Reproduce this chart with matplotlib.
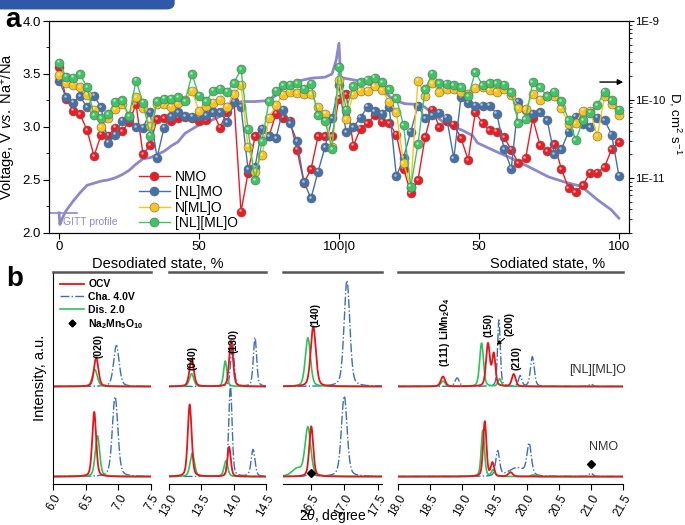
import numpy as np
import matplotlib
matplotlib.use("Agg")
import matplotlib.pyplot as plt
from matplotlib.patches import FancyBboxPatch
from matplotlib.transforms import ScaledTranslation

plt.rcParams['font.family'] = ['Liberation Sans', 'DejaVu Sans']
plt.rcParams['mathtext.fontset'] = 'custom'
plt.rcParams['mathtext.rm'] = 'Liberation Sans'
plt.rcParams['mathtext.it'] = 'Liberation Sans:italic'
plt.rcParams['mathtext.bf'] = 'Liberation Sans:bold'

# ---------------- panel a data ----------------
# state axis: 0-100 desodiated, then 100-200 sodiated (0-100)
desod_x = np.linspace(0, 100, 41)
sod_x = np.linspace(100, 200, 40)[1:]

# log10 of diffusion coefficient (cm2 s-1)
nmo_desod = [-9.58, -9.99, -10.14, -10.19, -10.39, -10.72, -10.45, -10.46, -10.36, -10.40,
             -10.29, -10.06, -10.70, -10.58, -10.25, -10.24, -10.27, -10.23, -10.22, -10.23,
             -10.27, -10.26, -10.16, -10.36, -10.16, -10.02, -11.43, -10.94, -10.47, -10.37,
             -10.47, -10.18, -10.23, -10.27, -10.64, -11.06, -10.89, -10.47, -10.47, -10.47, -9.99]
nmo_sod = [-9.93, -10.59, -10.37, -10.30, -10.20, -10.28, -10.30, -10.45, -10.88, -11.19,
           -11.03, -10.48, -10.13, -10.35, -10.27, -10.32, -10.49, -10.77, -10.16, -10.30,
           -10.39, -10.41, -10.48, -10.64, -10.81, -10.75, -10.24, -10.58, -10.66, -10.57,
           -10.89, -11.13, -11.18, -11.09, -10.93, -10.93, -10.86, -10.63, -10.54]

nlmo_desod = [-9.76, -9.97, -10.04, -9.96, -10.10, -9.95, -10.10, -10.55, -10.45, -10.27,
              -10.24, -10.35, -10.36, -10.16, -10.74, -10.36, -10.21, -10.16, -10.21, -10.22,
              -10.21, -10.20, -10.16, -10.16, -10.29, -10.03, -10.09, -10.89, -10.86, -10.37,
              -10.47, -10.49, -10.13, -10.30, -10.53, -11.05, -11.26, -10.92, -10.61, -10.24, -9.82]
nlmo_sod = [-10.42, -10.35, -10.23, -10.09, -10.15, -10.18, -10.10, -10.98, -10.74, -10.41,
            -10.08, -10.24, -10.20, -10.17, -10.23, -10.75, -9.97, -10.04, -10.08, -10.08,
            -10.08, -10.18, -10.63, -10.88, -10.03, -10.13, -10.18, -10.16, -10.26, -10.70,
            -10.63, -10.41, -10.22, -10.31, -10.35, -10.23, -10.26, -10.45, -10.97]

nmlo_desod = [-9.69, -9.79, -9.81, -9.84, -9.94, -10.13, -10.35, -10.24, -10.12, -10.06,
              -10.21, -9.97, -10.11, -10.34, -10.06, -10.06, -10.09, -10.05, -10.01, -9.89,
              -10.15, -10.08, -10.04, -10.00, -10.09, -9.93, -9.81, -10.60, -10.92, -10.71,
              -10.23, -10.07, -9.94, -9.90, -9.92, -9.93, -9.93, -10.10, -10.18, -10.60, -9.75]
nmlo_sod = [-10.25, -9.93, -9.89, -9.89, -9.83, -9.88, -10.03, -10.16, -10.81, -11.11,
            -9.76, -9.96, -9.79, -9.91, -9.87, -9.87, -9.91, -9.93, -9.85, -9.84,
            -9.88, -9.90, -9.86, -9.94, -10.11, -10.12, -9.93, -10.00, -9.96, -9.96,
            -10.11, -10.31, -10.30, -10.14, -10.14, -10.47, -9.96, -10.06, -10.20]

nlml_desod = [-9.53, -9.71, -9.72, -9.68, -9.84, -10.20, -10.24, -10.19, -10.03, -10.01,
              -10.21, -9.76, -10.04, -10.46, -10.02, -9.99, -9.99, -9.97, -10.02, -9.68,
              -9.95, -10.02, -9.89, -9.86, -9.90, -9.79, -9.61, -10.38, -11.03, -10.53,
              -10.02, -9.89, -9.82, -9.81, -9.79, -9.86, -9.80, -10.20, -10.27, -10.63, -9.58]
nlml_sod = [-10.13, -9.83, -9.78, -9.75, -9.72, -9.78, -9.87, -9.98, -10.33, -11.11,
            -10.57, -9.87, -9.67, -9.79, -9.80, -9.82, -9.84, -9.96, -9.65, -9.82,
            -9.79, -9.79, -9.81, -9.91, -10.30, -10.25, -9.78, -9.84, -9.96, -9.90,
            -10.02, -10.26, -10.52, -10.26, -10.17, -10.07, -9.90, -10.01, -10.13]

# GITT voltage profile
gitt_x = [0, 0.3, 1, 2.5, 5, 7.5, 10, 12.5, 15, 17.5, 20, 22.5, 25, 27.5, 30, 32.5, 35,
          37.5, 40, 42.5, 45, 47.5, 50, 52.5, 55, 57.5, 60, 62.5, 65, 67.5, 70, 75, 77.5,
          80, 82.5, 85, 90, 95, 97.5, 99, 100, 100.6, 102, 108, 114, 120, 123.5, 129.5,
          132, 138, 144, 147.7, 149.5, 156, 162, 168.9, 174.8, 180.7, 186.6, 192.5, 197.2, 200]
gitt_v = [2.19, 2.08, 2.13, 2.21, 2.30, 2.38, 2.45, 2.47, 2.49, 2.50, 2.52, 2.55, 2.59,
          2.65, 2.70, 2.71, 2.74, 2.77, 2.82, 2.86, 2.94, 2.98, 3.02, 3.04, 3.07, 3.10,
          3.14, 3.19, 3.24, 3.24, 3.24, 3.25, 3.30, 3.36, 3.39, 3.43, 3.46, 3.47, 3.50,
          3.63, 3.79, 3.47, 3.46, 3.43, 3.37, 3.25, 3.22, 3.21, 3.16, 3.03, 2.97, 2.92,
          2.85, 2.77, 2.70, 2.61, 2.53, 2.48, 2.44, 2.31, 2.22, 2.14]

series_names = ['NMO', '[NL]MO', 'N[ML]O', '[NL][ML]O']
series_colors = ['#ec1c24', '#4472a8', '#f7c51e', '#3fc463']

# ---------------- panel b data (peak: centre, height, fwhm) ----------------
top_ocv = [(6.66, .137, .08), (13.35, .13, .08), (13.96, .215, .07), (16.54, .283, .09),
           (18.70, .047, .08), (19.40, .20, .07), (19.49, .15, .06), (19.80, .058, .07)]
top_cha = [(6.97, .193, .10), (13.98, .21, .06), (14.33, .23, .06), (17.04, .50, .10),
           (18.92, .04, .08), (19.57, .315, .05), (19.90, .05, .06), (20.09, .14, .07),
           (21.0, .012, .06)]
top_dis = [(6.64, .08, .09), (13.35, .06, .08), (13.87, .12, .06), (16.46, .23, .09),
           (18.70, .025, .08), (19.30, .205, .07), (19.58, .035, .06)]
bot_ocv = [(6.63, .305, .07), (13.32, .34, .07), (13.93, .14, .06), (16.51, .237, .07),
           (19.35, .26, .06), (19.47, .063, .06), (19.75, .02, .08)]
bot_cha = [(6.95, .377, .10), (13.95, .43, .06), (14.30, .127, .07), (16.5, .015, .1),
           (17.0, .38, .10), (19.55, .118, .07), (19.85, .04, .3), (20.04, .145, .08),
           (21.0, .016, .07)]
bot_dis = [(6.68, .193, .08), (13.36, .11, .08), (13.88, .074, .07), (16.30, .035, .18),
           (16.46, .23, .10), (19.32, .22, .06), (19.48, .03, .06), (20.1, .008, .08)]
phase_marks = [16.5, 21.0]
windows = [(6.0, 7.5), (13.0, 14.5), (16.09, 17.56), (18.0, 21.5)]
window_ticks = [[6.0, 6.5, 7.0, 7.5], [13.0, 13.5, 14.0, 14.5], [16.5, 17.0, 17.5],
                [18.0, 18.5, 19.0, 19.5, 20.0, 20.5, 21.0, 21.5]]


def profile(x, peaks):
    y = np.zeros_like(x)
    for c, h, w in peaks:
        g = np.exp(-4 * np.log(2) * ((x - c) / w) ** 2)
        lor = 1.0 / (1 + 4 * ((x - c) / w) ** 2)
        y += h * (0.65 * g + 0.35 * lor)
    return y


fig = plt.figure(figsize=(6.85, 5.25), dpi=100)

# banner
fig.patches.append(FancyBboxPatch((-0.02, 0.982), 0.275, 0.05, boxstyle="round,pad=0,rounding_size=0.012",
                                  transform=fig.transFigure, facecolor='#2f58a8', edgecolor='none'))

# ---------------- panel a ----------------
ax = fig.add_axes([0.0715, 0.5562, 0.8467, 0.4038])
ax.plot(gitt_x, gitt_v, color='#8c88c9', lw=2.0, zorder=1)
ax.plot([-3.2, 6.4], [2.19, 2.19], color='#8c88c9', lw=1.2)
ax.text(1.4, 2.10, 'GITT profile', color='#8c88c9', fontsize=7.5, va='center')
ax.set_xlim(-3.6, 203.6)
ax.set_ylim(2.0, 4.0)
ax.set_yticks([2.0, 2.5, 3.0, 3.5, 4.0])
ax.set_yticklabels(['2.0', '2.5', '3.0', '3.5', '4.0'])
ax.set_yticks(np.arange(2.0, 4.01, 0.25), minor=True)
ax.set_xticks([0, 50, 100, 150, 200])
ax.set_xticklabels(['0', '50', '100|0', '50', '100'])
ax.tick_params(labelsize=9.5, length=4, pad=2)
ax.tick_params(which='minor', length=2)
ax.set_ylabel(r'Voltage, V $\it{vs.}$ Na$^{+}$/Na', fontsize=10.5)
ax.yaxis.set_label_coords(-0.053, 0.5)

ax2 = ax.twinx()
state = np.concatenate([desod_x, sod_x])
all_logd = [nmo_desod + nmo_sod, nlmo_desod + nlmo_sod, nmlo_desod + nmlo_sod, nlml_desod + nlml_sod]
shine = ax2.transData + ScaledTranslation(-1.0 / 72, 1.0 / 72, fig.dpi_scale_trans)
for logd, name, col in zip(all_logd, series_names, series_colors):
    d = 10.0 ** np.array(logd)
    ax2.plot(state, d, '-o', color=col, lw=1.0, ms=6.5, mec='#666666', mew=0.4, label=name)
    ax2.plot(state, d, 'o', color='white', ms=1.8, alpha=0.6, mew=0, transform=shine)
ax2.set_yscale('log')
ax2.set_ylim(10 ** -11.70, 1e-9)
ax2.set_yticks([1e-11, 1e-10, 1e-9])
ax2.set_yticklabels(['1E-11', '1E-10', '1E-9'])
ax2.tick_params(labelsize=8.2, length=3.5, pad=1)
ax2.tick_params(which='minor', length=2)
leg = ax2.legend(loc='lower left', bbox_to_anchor=(0.14, -0.025), frameon=False, fontsize=10,
                 handlelength=2.3, handletextpad=0.3, labelspacing=0.1, borderaxespad=0.2)
ax2.annotate('', xy=(0.995, 0.712), xytext=(0.945, 0.712), xycoords='axes fraction',
             arrowprops=dict(arrowstyle='-|>', color='black', lw=1, mutation_scale=8))
fig.text(0.986, 0.765, r'D, cm$^2$ s$^{-1}$', rotation=270, fontsize=9.5, ha='center', va='center')
fig.text(0.231, 0.497, 'Desodiated state, %', fontsize=10.5, ha='center', va='center')
fig.text(0.799, 0.497, 'Sodiated state, %', fontsize=10.5, ha='center', va='center')
fig.text(0.019, 0.962, 'a', fontsize=20, fontweight='bold', ha='center', va='center')
fig.text(0.021, 0.468, 'b', fontsize=20, fontweight='bold', ha='center', va='center')

# ---------------- panel b ----------------
positions = [(0.0774, 0.0781, 0.1431, 0.4038), (0.2467, 0.0781, 0.1416, 0.4038),
             (0.4131, 0.0781, 0.1445, 0.4038), (0.5810, 0.0781, 0.3285, 0.4038)]
off_top, off_bot = 0.46, 0.035
red, blue, green = '#e8141c', '#3e6fb0', '#2dc35a'
baxes = []
for k, (pos, (lo, hi), ticks) in enumerate(zip(positions, windows, window_ticks)):
    bx = fig.add_axes(pos)
    x = np.linspace(lo, hi, 800)
    for off, ocv, cha, dis in [(off_top, top_ocv, top_cha, top_dis), (off_bot, bot_ocv, bot_cha, bot_dis)]:
        bx.plot(x, off + profile(x, cha), color=blue, lw=1.0, ls='-.')
        bx.plot(x, off + profile(x, dis), color=green, lw=1.2)
        bx.plot(x, off + profile(x, ocv), color=red, lw=1.3)
    bx.set_xlim(lo, hi)
    bx.set_ylim(0, 1)
    bx.set_yticks([])
    bx.set_xticks(ticks)
    bx.set_xticklabels(['%.1f' % t for t in ticks], rotation=60, ha='right', va='top',
                       rotation_mode='anchor', fontsize=8.5)
    bx.tick_params(axis='x', length=4, pad=2)
    bx.spines['right'].set_visible(False)
    bx.spines['left'].set_visible(k == 0)
    bx.spines['top'].set_color('#555555')
    bx.spines['top'].set_linewidth(1.8)
    baxes.append(bx)

baxes[2].plot([phase_marks[0]], [0.05], 'D', color='black', ms=4)
baxes[3].plot([phase_marks[1]], [0.093], 'D', color='black', ms=4)

lab = dict(fontsize=7.5, fontweight='bold', rotation=90, ha='center', va='bottom')
baxes[0].text(6.70, 0.594, '(020)', **lab)
baxes[1].text(13.37, 0.538, '(040)', **lab)
baxes[1].text(13.99, 0.62, '(130)', **lab)
baxes[2].text(16.57, 0.74, '(140)', **lab)
baxes[3].text(18.73, 0.552, r'(111) LiMn$_\mathbf{2}$O$_\mathbf{4}$', **lab)
baxes[3].text(19.41, 0.693, '(150)', **lab)
baxes[3].text(19.73, 0.70, '(200)', **lab)
baxes[3].text(19.85, 0.538, '(210)', **lab)
baxes[3].annotate('', xy=(19.50, 0.648), xytext=(19.69, 0.695),
                  arrowprops=dict(arrowstyle='-|>', color='black', lw=0.8, mutation_scale=6))
baxes[3].text(21.1, 0.538, '[NL][ML]O', fontsize=9, color='#333333', ha='center', va='center')
baxes[3].text(21.19, 0.175, 'NMO', fontsize=9, color='#333333', ha='center', va='center')

handles = [plt.Line2D([], [], color=red, lw=1.3), plt.Line2D([], [], color=blue, lw=1.0, ls='-.'),
           plt.Line2D([], [], color=green, lw=1.2),
           plt.Line2D([], [], color='black', marker='D', ls='none', ms=3.5)]
labels = ['OCV', 'Cha. 4.0V', 'Dis. 2.0', r'$\mathbf{Na_2Mn_5O_{10}}$']
baxes[0].legend(handles, labels, loc='upper left', bbox_to_anchor=(0.0, 1.0), frameon=False,
                prop=dict(size=7.5, weight='bold'), handlelength=2.3, handletextpad=0.4,
                labelspacing=0.25, borderaxespad=0.3)
fig.text(0.058, 0.28, 'Intensity, a.u.', rotation=90, fontsize=10.5, ha='center', va='center')
fig.text(0.486, 0.017, r'2$\theta$, degree', fontsize=10, ha='center', va='center')

fig.savefig('out.png', dpi=100)
